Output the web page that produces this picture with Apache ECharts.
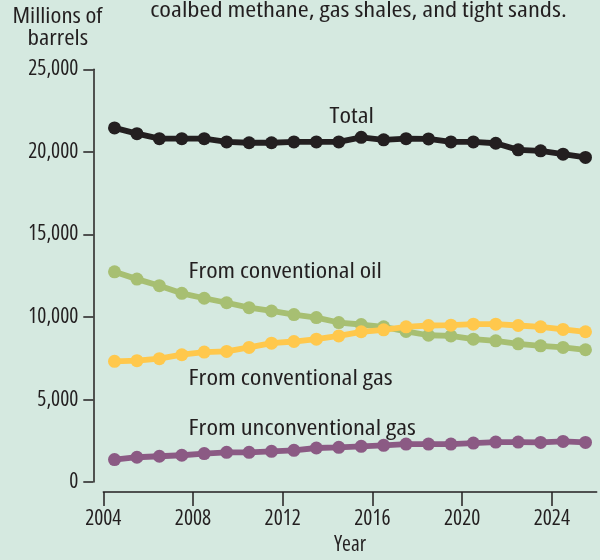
<!DOCTYPE html>
<html>
<head>
<meta charset="utf-8">
<script src="https://cdn.jsdelivr.net/npm/echarts@6/dist/echarts.min.js"></script>
<style>
  html, body { margin: 0; padding: 0; background: #d5e9e0; }
  #chart { width: 600px; height: 560px; }
</style>
</head>
<body>
<div id="chart"></div>
<script>
// ---- data ----
var years = [2004.5, 2005.5, 2006.5, 2007.5, 2008.5, 2009.5, 2010.5, 2011.5, 2012.5, 2013.5, 2014.5,
             2015.5, 2016.5, 2017.5, 2018.5, 2019.5, 2020.5, 2021.5, 2022.5, 2023.5, 2024.5, 2025.5];
var total = [21450, 21100, 20800, 20800, 20800, 20600, 20550, 20550, 20600, 20600, 20600,
             20880, 20730, 20800, 20780, 20600, 20600, 20520, 20120, 20060, 19860, 19660];
var conventionalOil = [12730, 12290, 11890, 11430, 11130, 10860, 10560, 10360, 10140, 9960, 9660,
                       9540, 9400, 9120, 8890, 8850, 8650, 8550, 8370, 8250, 8150, 8010];
var conventionalGas = [7310, 7350, 7470, 7710, 7870, 7910, 8150, 8410, 8510, 8650, 8850,
                       9100, 9220, 9400, 9480, 9500, 9560, 9560, 9480, 9400, 9240, 9100];
var unconventionalGas = [1360, 1500, 1560, 1620, 1720, 1800, 1800, 1860, 1920, 2060, 2100,
                         2160, 2220, 2300, 2300, 2300, 2360, 2420, 2420, 2400, 2460, 2400];
var xTicks = [2004, 2008, 2012, 2016, 2020, 2024];
var yTicks = [0, 5000, 10000, 15000, 20000, 25000];
var seriesNames = ['Total', 'From conventional oil', 'From conventional gas', 'From unconventional gas'];
var captionText = 'coalbed methane, gas shales, and tight sands.';
var yUnitLines = ['Millions of', 'barrels'];
var xAxisTitle = 'Year';

// ---- styles ----
var INK = '#231f20';
var BG = '#d5e9e0';
var colors = ['#231f20', '#a7bf72', '#ffc84c', '#8b5a84'];

// ---- pick the best installed condensed font ----
var mctx = document.createElement('canvas').getContext('2d');
function mw(font, t) { mctx.font = font; return mctx.measureText(t).width; }
var probe = 'From unconventional gas 2024';
var candidates = [
  { fam: "'Liberation Sans Narrow'", pre: '' },
  { fam: "'Arial Narrow'", pre: '' },
  { fam: "'Nimbus Sans Narrow'", pre: '' },
  { fam: "'Roboto Condensed'", pre: '' },
  { fam: "'Noto Sans ExtraCondensed'", pre: '' },
  { fam: "'Noto Sans Condensed'", pre: '' },
  { fam: "'Noto Sans'", pre: 'extra-condensed ' },
  { fam: "'Noto Sans'", pre: 'condensed ' },
  { fam: "'Open Sans Condensed'", pre: '' },
  { fam: "'Open Sans'", pre: 'condensed ' },
  { fam: "'Roboto'", pre: 'condensed ' },
  { fam: "'DejaVu Sans Condensed'", pre: '' },
  { fam: "'Liberation Sans'", pre: '' }
];
function familyExists(fam) {
  return ['monospace', 'serif'].some(function (b) {
    return Math.abs(mw('40px ' + b, probe) - mw('40px ' + fam + ', ' + b, probe)) > 0.5;
  });
}
var best = null, bestScore = Infinity;
candidates.forEach(function (c) {
  if (!familyExists(c.fam)) return;
  if (c.pre && !(mw(c.pre + '100px ' + c.fam, probe) < 0.97 * mw('100px ' + c.fam, probe))) return;
  var adv = mw(c.pre + '100px ' + c.fam + ', sans-serif', '2024') / 400;
  var score = Math.abs(adv - 0.43);
  if (score < bestScore - 0.005) { bestScore = score; best = { fam: c.fam, pre: c.pre, adv: adv }; }
});
if (!best) best = { fam: 'sans-serif', pre: '', adv: 0.55 };
var FAMILY = best.fam + ', sans-serif';
var STRETCH = best.pre.trim() || 'normal';
var FS_TICK = Math.max(15, Math.min(21.5, 36.3 / (4 * best.adv)));
var FS_LABEL = 21;

// text fitted to a measured width, centred on cx
function fitText(text, cx, cy, targetW) {
  var font = best.pre + FS_LABEL + 'px ' + FAMILY;
  var s = (targetW + 1.5) / mw(font, text);
  return {
    type: 'text', x: cx, y: cy, scaleX: s, originX: 0, originY: 0, silent: true,
    style: { text: text, font: font, fill: INK, textAlign: 'center', textVerticalAlign: 'middle' }
  };
}

function pairs(vals) { return vals.map(function (v, i) { return [years[i], v]; }); }
function fmt(v) { return String(v).replace(/\B(?=(\d{3})+(?!\d))/g, ','); }

var chart = echarts.init(document.getElementById('chart'), null, { renderer: 'canvas' });
var dataSets = [total, conventionalOil, conventionalGas, unconventionalGas];
var zOrder = [10, 7, 8, 6];

var tickText = { color: INK, fontFamily: FAMILY, fontStyle: STRETCH, fontSize: FS_TICK };

var option = {
  backgroundColor: BG,
  animation: false,
  grid: { left: 103.3, right: 3.3, top: 69.3, bottom: 72.7, containLabel: false },
  xAxis: {
    type: 'value', min: 2004, max: 2026, interval: 4, offset: 10,
    name: xAxisTitle, nameLocation: 'middle', nameGap: 42,
    nameTextStyle: tickText,
    axisLine: { show: true, onZero: false, lineStyle: { color: INK, width: 1.5 } },
    axisTick: { show: true, length: 14, lineStyle: { color: INK, width: 1.5 }, customValues: xTicks },
    axisLabel: Object.assign({ margin: 16, customValues: xTicks, formatter: function (v) { return String(v); } }, tickText),
    splitLine: { show: false }
  },
  yAxis: {
    type: 'value', min: 0, max: 25000, interval: 5000, offset: 10,
    axisLine: { show: true, onZero: false, lineStyle: { color: INK, width: 1.5 } },
    axisTick: { show: true, length: 10, lineStyle: { color: INK, width: 1.5 }, customValues: yTicks },
    axisLabel: Object.assign({ margin: 15, customValues: yTicks, formatter: function (v) { return fmt(v); } }, tickText),
    splitLine: { show: false }
  },
  series: dataSets.map(function (d, i) {
    return {
      name: seriesNames[i], type: 'line', data: pairs(d),
      symbol: 'circle', symbolSize: 13,
      lineStyle: { color: colors[i], width: 5.8 },
      itemStyle: { color: colors[i] },
      z: zOrder[i]
    };
  }),
  graphic: [
    fitText(captionText, 358.5, 11.5, 415),
    fitText(yUnitLines[0], 57.5, 17.5, 88.4),
    fitText(yUnitLines[1], 57.8, 39.5, 59),
    fitText(seriesNames[0], 351.7, 116.7, 42.8),
    fitText(seriesNames[1], 285.2, 272.5, 191.7),
    fitText(seriesNames[2], 290.6, 379.2, 202.7),
    fitText(seriesNames[3], 302.2, 429.5, 225.7)
  ]
};
chart.setOption(option);
</script>
</body>
</html>
